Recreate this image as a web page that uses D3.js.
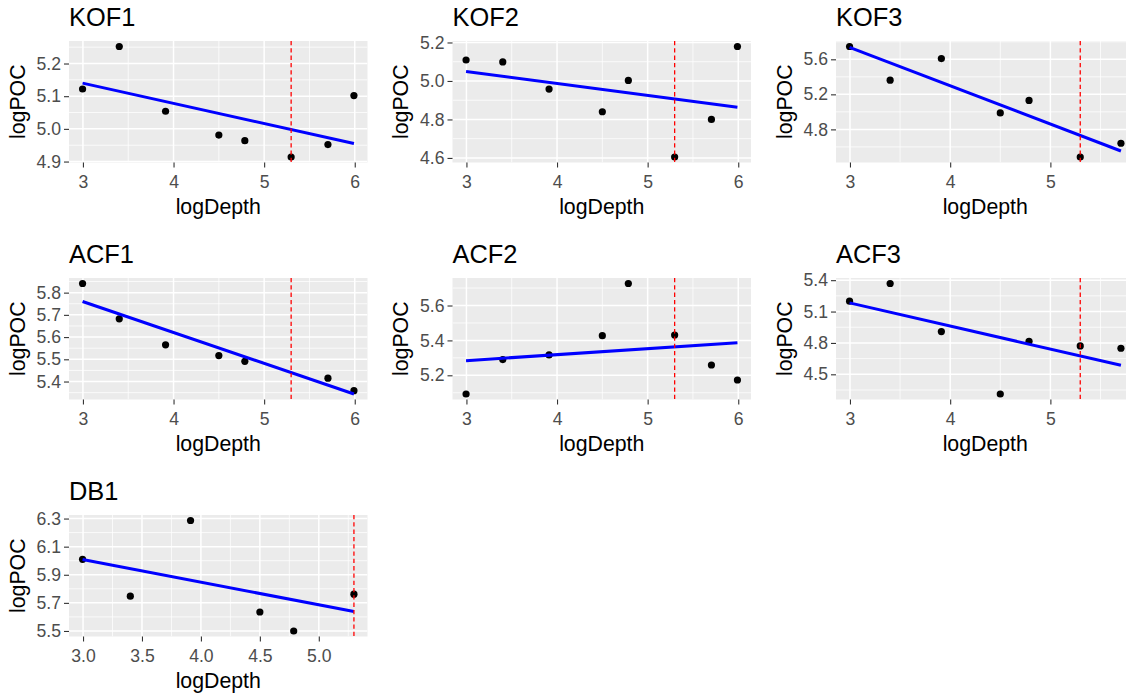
<!DOCTYPE html>
<html><head><meta charset="utf-8">
<script src="https://cdn.jsdelivr.net/npm/d3@7"></script>
<style>
body{margin:0;background:#fff;overflow:hidden}
text{font-family:"Liberation Sans",Arial,sans-serif}
</style>
</head><body><svg id="chart" width="1126" height="696"></svg>
<script>
// ---- data ----
const panelNames = ["KOF1","KOF2","KOF3","ACF1","ACF2","ACF3","DB1"];
const logDepth = [2.996, 3.401, 3.912, 4.500, 4.787, 5.298, 5.704, 5.991];
const pocKOF1 = [5.122, 5.252, 5.054, 4.981, 4.964, 4.914, 4.952, 5.102];
const pocKOF2 = [5.109, 5.099, 4.958, 4.840, 5.003, 4.605, 4.800, 5.179];
const pocKOF3 = [5.746, 5.362, 5.608, 4.988, 5.131, 4.485, 4.642, null];
const pocACF1 = [5.841, 5.682, 5.565, 5.517, 5.491, null, 5.415, 5.359];
const pocACF2 = [5.093, 5.290, 5.317, 5.427, 5.726, 5.431, 5.259, 5.173];
const pocACF3 = [5.199, 5.368, 4.909, 4.312, 4.816, 4.771, 4.749, null];
const pocDB1  = [6.010, 5.748, 6.286, 5.635, 5.500, 5.762, null, null];
const pocSeries = [pocKOF1, pocKOF2, pocKOF3, pocACF1, pocACF2, pocACF3, pocDB1];
// fitted (lm) line values at the smallest and largest depth of each panel
const fitStart = [5.140, 5.049, 5.737, 5.760, 5.284, 5.183, 6.009];
const fitEnd   = [4.955, 4.863, 4.553, 5.344, 5.387, 4.586, 5.638];
const refDepth = 5.298;
const xTickLabels = [
  ["3","4","5","6"], ["3","4","5","6"], ["3","4","5"],
  ["3","4","5","6"], ["3","4","5","6"], ["3","4","5"],
  ["3.0","3.5","4.0","4.5","5.0"]
];
const yTickLabels = [
  ["4.9","5.0","5.1","5.2"], ["4.6","4.8","5.0","5.2"], ["4.8","5.2","5.6"],
  ["5.4","5.5","5.6","5.7","5.8"], ["5.2","5.4","5.6"], ["4.5","4.8","5.1","5.4"],
  ["5.5","5.7","5.9","6.1","6.3"]
];

// ---- layout ----
const cellW = 383.5, cellH = 237, padL = 69, padT = 41, pw = 298.5, ph = 121.5;
const svg = d3.select("#chart");
svg.append("rect").attr("width",1126).attr("height",696).attr("fill","#fff");

function minorBreaks(br, lo, hi){
  const step = br[1]-br[0];
  const ext = [br[0]-step].concat(br, [br[br.length-1]+step]);
  const out = [];
  for (let k=0;k<ext.length-1;k++){ const m=(ext[k]+ext[k+1])/2; if(m>=lo && m<=hi) out.push(m); }
  return out;
}

panelNames.forEach((name,i)=>{
  const col = i%3, row = Math.floor(i/3);
  const x0 = col*cellW + padL, y0 = row*cellH + padT;
  const poc = pocSeries[i];
  const pts = logDepth.map((d,j)=>({x:d, y:poc[j]})).filter(d=>d.y!==null);
  const xs = pts.map(d=>d.x).concat([refDepth]);
  const ys = pts.map(d=>d.y).concat([fitStart[i], fitEnd[i]]);
  const [xmn,xmx] = d3.extent(xs), [ymn,ymx] = d3.extent(ys);
  const xe = (xmx-xmn)*0.05, ye = (ymx-ymn)*0.05;
  const x = d3.scaleLinear().domain([xmn-xe, xmx+xe]).range([x0, x0+pw]);
  const y = d3.scaleLinear().domain([ymn-ye, ymx+ye]).range([y0+ph, y0]);
  const xt = xTickLabels[i].map(Number), yt = yTickLabels[i].map(Number);

  const g = svg.append("g");
  const clipId = "clip"+i;
  g.append("clipPath").attr("id",clipId).append("rect")
    .attr("x",x0).attr("y",y0).attr("width",pw).attr("height",ph);
  g.append("rect").attr("x",x0).attr("y",y0).attr("width",pw).attr("height",ph).attr("fill","#EBEBEB");
  const pg = g.append("g").attr("clip-path",`url(#${clipId})`);

  // minor grid
  pg.selectAll(".mx").data(minorBreaks(xt, ...x.domain())).join("line")
    .attr("x1",d=>x(d)).attr("x2",d=>x(d)).attr("y1",y0).attr("y2",y0+ph)
    .attr("stroke","#fff").attr("stroke-width",0.75);
  pg.selectAll(".my").data(minorBreaks(yt, ...y.domain())).join("line")
    .attr("y1",d=>y(d)).attr("y2",d=>y(d)).attr("x1",x0).attr("x2",x0+pw)
    .attr("stroke","#fff").attr("stroke-width",0.75);
  // major grid
  pg.selectAll(".Mx").data(xt).join("line")
    .attr("x1",d=>x(d)).attr("x2",d=>x(d)).attr("y1",y0).attr("y2",y0+ph)
    .attr("stroke","#fff").attr("stroke-width",1.5);
  pg.selectAll(".My").data(yt).join("line")
    .attr("y1",d=>y(d)).attr("y2",d=>y(d)).attr("x1",x0).attr("x2",x0+pw)
    .attr("stroke","#fff").attr("stroke-width",1.5);

  // points
  pg.selectAll("circle").data(pts).join("circle")
    .attr("cx",d=>x(d.x)).attr("cy",d=>y(d.y)).attr("r",3.6).attr("fill","#000");
  // fitted line
  const fit = [{x:d3.min(pts,d=>d.x), y:fitStart[i]}, {x:d3.max(pts,d=>d.x), y:fitEnd[i]}];
  pg.append("path").datum(fit)
    .attr("d", d3.line().x(d=>x(d.x)).y(d=>y(d.y)))
    .attr("stroke","#0000FF").attr("stroke-width",3).attr("fill","none");
  // reference line
  pg.append("line").attr("x1",x(refDepth)).attr("x2",x(refDepth)).attr("y1",y0).attr("y2",y0+ph)
    .attr("stroke","#FF0000").attr("stroke-width",1.3).attr("stroke-dasharray","4.3,3");

  // axes
  const ax = g.append("g").attr("transform",`translate(0,${y0+ph})`)
    .call(d3.axisBottom(x).tickValues(xt).tickFormat((d,k)=>xTickLabels[i][k]).tickSize(5).tickPadding(8));
  const ay = g.append("g").attr("transform",`translate(${x0},0)`)
    .call(d3.axisLeft(y).tickValues(yt).tickFormat((d,k)=>yTickLabels[i][k]).tickSize(5).tickPadding(3));
  [ax,ay].forEach(a=>{
    a.select(".domain").remove();
    a.attr("font-size",null).attr("font-family",null);
    a.selectAll("line").attr("stroke","#333333").attr("stroke-width",1.1);
    a.selectAll("text").attr("fill","#4D4D4D").style("font-size","17.6px");
  });

  // titles
  g.append("text").attr("x",x0).attr("y",y0-15).text(name)
    .style("font-size","25.4px").attr("fill","#000");
  g.append("text").attr("x",x0+pw/2).attr("y",y0+ph+51.5).attr("text-anchor","middle")
    .text("logDepth").style("font-size","21.3px").attr("fill","#000");
  g.append("text").attr("transform",`translate(${x0-44.5},${y0+ph/2}) rotate(-90)`)
    .attr("text-anchor","middle").text("logPOC").style("font-size","21.3px").attr("fill","#000");
});
</script>
</body></html>
